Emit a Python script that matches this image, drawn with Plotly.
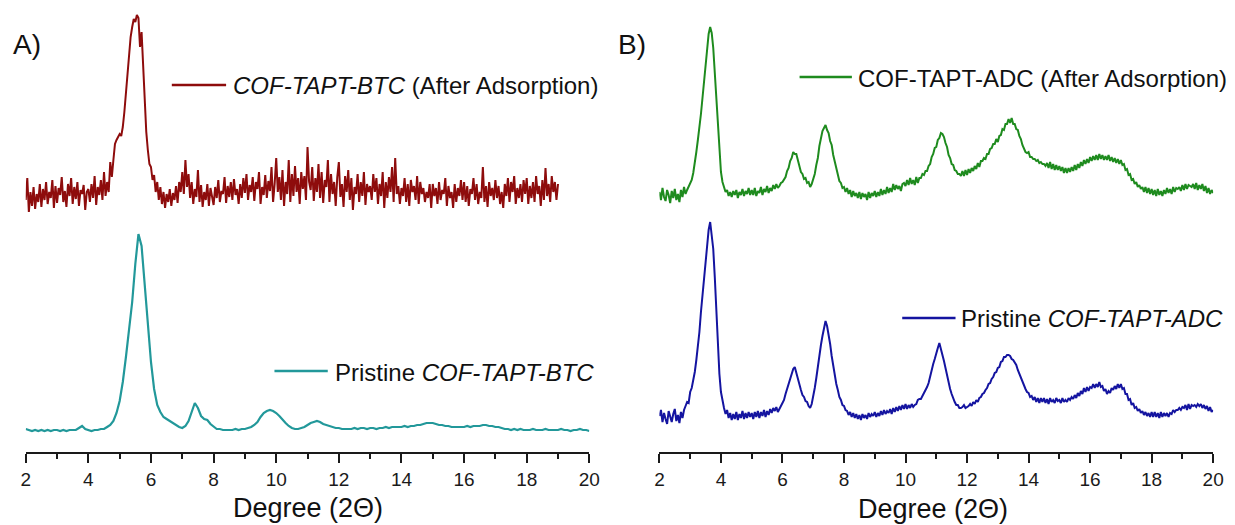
import numpy as np
import plotly.graph_objects as go

# ---------------- data (intensities, arbitrary units) ----------------
X_START = 2.0
STEP_FINE = 0.05     # sampling of the noisy scans
STEP_COARSE = 0.1    # sampling of the smooth pristine BTC scan

# COF-TAPT-BTC after adsorption, 2.00 .. 19.00 (step 0.05), one row per degree
btc_after = [
    22, 44, 10, 30, 16, 35, 13, 28, 20, 38, 15, 33, 22, 40, 18, 30, 24, 42, 14, 36,
    19, 34, 27, 45, 20, 31, 15, 38, 26, 44, 18, 35, 23, 40, 16, 32, 28, 37, 12, 30,
    33, 20, 38, 24, 46, 17, 35, 27, 42, 22, 50, 26, 40, 30, 60, 45, 62, 78, 82, 85,
    88, 86, 95, 110, 130, 150, 165, 185, 195, 203, 200, 207, 204, 175, 190, 155, 110, 90, 72, 58,
    55, 42, 47, 30, 40, 22, 35, 18, 30, 14, 28, 20, 33, 16, 29, 22, 36, 19, 40, 30,
    50, 28, 62, 35, 48, 24, 40, 18, 33, 25, 52, 20, 37, 15, 30, 22, 38, 16, 34, 26,
    17, 35, 24, 42, 20, 31, 28, 45, 19, 36, 25, 40, 22, 43, 27, 33, 18, 38, 24, 44,
    29, 48, 22, 37, 30, 45, 21, 40, 33, 50, 18, 35, 27, 47, 24, 41, 31, 55, 20, 38,
    64, 30, 45, 22, 52, 16, 40, 28, 62, 20, 48, 26, 56, 30, 44, 18, 50, 33, 46, 22,
    75, 40, 32, 55, 21, 44, 30, 58, 24, 50, 19, 42, 35, 62, 20, 48, 28, 40, 16, 45,
    60, 25, 38, 15, 46, 30, 52, 22, 44, 12, 35, 28, 48, 20, 40, 26, 50, 17, 38, 30,
    36, 22, 48, 30, 44, 18, 38, 26, 50, 14, 40, 24, 45, 30, 55, 20, 64, 28, 36, 18,
    34, 26, 44, 20, 38, 16, 42, 30, 36, 22, 46, 18, 40, 28, 34, 20, 30, 24, 38, 14,
    38, 26, 34, 18, 40, 22, 32, 28, 44, 16, 36, 24, 30, 14, 38, 20, 34, 26, 42, 22,
    40, 20, 36, 16, 33, 28, 44, 22, 38, 18, 30, 24, 55, 20, 36, 15, 40, 26, 34, 22,
    42, 24, 36, 18, 30, 14, 38, 26, 44, 20, 40, 30, 46, 18, 34, 24, 38, 20, 42, 28,
    44, 18, 36, 24, 40, 20, 46, 28, 36, 16, 42, 22, 54, 26, 38, 20, 46, 30, 40, 22,
    38,
]

# Pristine COF-TAPT-BTC, 2.0 .. 20.0 (step 0.1)
btc_pristine = [
    23, 22, 21, 22, 21, 22, 21, 22, 21, 22,
    22, 21, 22, 21, 22, 22, 22, 24, 26, 23,
    22, 21, 22, 22, 23, 23, 25, 27, 31, 39,
    51, 70, 95, 121, 150, 188, 218, 206, 166, 128,
    90, 63, 47, 40, 35, 33, 31, 29, 27, 25,
    24, 26, 31, 41, 49, 44, 36, 33, 32, 28,
    25, 23, 23, 22, 22, 22, 22, 23, 22, 23,
    23, 24, 25, 27, 30, 35, 39, 41, 42, 41,
    39, 36, 32, 29, 26, 24, 23, 23, 24, 25,
    27, 29, 30, 31, 30, 28, 27, 26, 25, 24,
    24, 23, 23, 23, 23, 24, 23, 24, 24, 23,
    24, 24, 23, 24, 24, 25, 24, 25, 25, 25,
    25, 26, 25, 26, 26, 27, 27, 28, 29, 29,
    29, 28, 27, 27, 26, 26, 25, 25, 25, 25,
    25, 26, 25, 26, 26, 26, 27, 27, 26, 26,
    25, 25, 24, 23, 23, 22, 23, 22, 23, 22,
    22, 22, 23, 22, 22, 22, 23, 22, 22, 22,
    22, 23, 22, 22, 21, 22, 22, 23, 22, 22,
    21,
]

# COF-TAPT-ADC after adsorption, 2.00 .. 20.00 (step 0.05)
adc_after = [
    38, 30, 42, 33, 29, 40, 35, 27, 39, 32, 41, 30, 36, 28, 40, 33, 43, 36, 40, 44,
    46, 50, 57, 66, 78, 90, 102, 116, 132, 150, 166, 183, 196, 203, 197, 182, 158, 130, 102, 78,
    58, 48, 42, 38, 40, 34, 38, 33, 39, 35, 40, 32, 38, 35, 41, 34, 39, 36, 42, 35,
    40, 35, 42, 34, 39, 37, 43, 35, 41, 38, 44, 37, 42, 39, 45, 41, 46, 42, 44, 47,
    48, 51, 53, 59, 62, 69, 72, 78, 76, 76, 69, 65, 58, 56, 51, 52, 47, 48, 43, 46,
    50, 56, 65, 72, 84, 91, 99, 102, 105, 100, 97, 89, 85, 75, 69, 60, 56, 49, 47, 42,
    43, 38, 42, 36, 40, 33, 39, 34, 37, 32, 38, 31, 37, 33, 36, 30, 38, 32, 37, 34,
    39, 33, 38, 34, 41, 35, 40, 36, 43, 37, 42, 38, 46, 40, 45, 41, 44, 39, 46, 47,
    44, 50, 45, 52, 46, 50, 45, 53, 47, 52, 52, 56, 55, 59, 59, 64, 66, 73, 76, 82,
    83, 90, 92, 97, 96, 93, 87, 83, 75, 72, 66, 65, 60, 59, 56, 56, 54, 59, 54, 60,
    55, 61, 57, 62, 59, 64, 61, 67, 63, 69, 69, 72, 71, 76, 76, 81, 82, 86, 86, 91,
    88, 94, 95, 101, 100, 106, 106, 111, 107, 112, 106, 106, 101, 100, 94, 91, 85, 82, 78, 77,
    78, 73, 73, 71, 71, 69, 70, 67, 68, 66, 66, 64, 67, 62, 68, 61, 66, 60, 65, 60,
    64, 59, 63, 57, 62, 57, 62, 58, 63, 59, 65, 60, 66, 62, 68, 64, 70, 66, 71, 67,
    73, 69, 74, 70, 75, 70, 76, 71, 75, 70, 74, 70, 75, 69, 73, 68, 72, 67, 71, 66,
    70, 65, 66, 60, 61, 55, 56, 50, 51, 46, 48, 43, 45, 41, 43, 38, 43, 37, 42, 36,
    41, 35, 40, 34, 41, 35, 39, 34, 40, 36, 42, 37, 41, 36, 43, 38, 42, 41, 43, 39,
    45, 40, 46, 41, 45, 44, 43, 46, 41, 47, 40, 45, 41, 46, 39, 44, 37, 42, 36, 40,
    37,
]

# Pristine COF-TAPT-ADC, 2.00 .. 20.00 (step 0.05)
adc_pristine = [
    36, 42, 30, 39, 33, 28, 41, 35, 30, 38, 43, 31, 37, 29, 40, 34, 42, 46, 50, 49,
    60, 64, 72, 80, 92, 105, 120, 140, 158, 168, 188, 208, 222, 230, 218, 203, 175, 145, 105, 78,
    60, 50, 44, 38, 42, 34, 39, 32, 38, 33, 40, 32, 38, 34, 41, 33, 39, 34, 40, 35,
    39, 33, 40, 35, 41, 34, 40, 36, 42, 35, 41, 37, 43, 39, 44, 41, 45, 40, 44, 46,
    49, 52, 58, 63, 70, 75, 80, 83, 85, 79, 74, 66, 62, 57, 55, 51, 50, 46, 44, 48,
    55, 64, 74, 86, 98, 107, 116, 124, 131, 126, 118, 108, 96, 86, 77, 68, 62, 55, 52, 47,
    46, 42, 41, 37, 40, 35, 39, 34, 38, 33, 37, 32, 38, 34, 37, 33, 39, 35, 38, 36,
    40, 35, 39, 36, 41, 37, 42, 38, 41, 39, 43, 38, 44, 40, 45, 41, 46, 42, 47, 43,
    48, 43, 47, 44, 48, 45, 47, 48, 52, 53, 53, 56, 58, 61, 65, 69, 76, 81, 88, 93,
    100, 104, 109, 103, 100, 91, 84, 76, 70, 63, 58, 53, 50, 47, 47, 44, 44, 45, 47, 44,
    45, 46, 48, 46, 50, 48, 52, 50, 54, 55, 58, 59, 62, 64, 68, 69, 73, 75, 79, 80,
    84, 85, 90, 91, 95, 95, 97, 97, 96, 93, 92, 89, 87, 82, 78, 73, 70, 65, 63, 60,
    59, 55, 56, 52, 55, 50, 54, 49, 54, 50, 54, 49, 53, 48, 54, 50, 52, 49, 54, 51,
    52, 49, 54, 50, 52, 50, 54, 52, 55, 53, 57, 54, 59, 56, 61, 58, 64, 60, 65, 61,
    65, 64, 68, 64, 68, 65, 70, 65, 66, 61, 63, 58, 61, 59, 64, 62, 66, 63, 68, 64,
    68, 63, 64, 58, 58, 52, 53, 47, 49, 44, 45, 41, 43, 39, 41, 37, 40, 36, 39, 35,
    40, 35, 40, 35, 39, 34, 40, 35, 39, 36, 39, 35, 39, 38, 42, 40, 42, 42, 44, 42,
    45, 44, 47, 42, 48, 43, 47, 46, 47, 45, 48, 46, 48, 44, 47, 43, 46, 41, 45, 40,
    42,
]

tick_vals = [2, 4, 6, 8, 10, 12, 14, 16, 18, 20]
tick_text = ["2", "4", "6", "8", "10", "12", "14", "16", "18", "20"]

# ---------------- styling / layout ----------------
W, H = 1235, 525
PLOT_H = 452  # pixel row of the x-axis line
FONT = "Arial, 'Liberation Sans', Helvetica, sans-serif"

RED = "#8E0C0C"
TEAL = "#22989A"
GREEN = "#1E8B1E"
BLUE = "#1414A0"

OFFSET_TOP_A = 230
OFFSET_TOP_B = 222


def grid(vals, step):
    return np.round(X_START + step * np.arange(len(vals)), 3)


def off(vals, o):
    return np.asarray(vals, dtype=float) + o


def px(x):
    return x / W


def py(y):
    return (PLOT_H - y) / PLOT_H


fig = go.Figure()

fig.add_trace(go.Scatter(x=grid(btc_after, STEP_FINE), y=off(btc_after, OFFSET_TOP_A), mode="lines",
                         line=dict(color=RED, width=2), xaxis="x", yaxis="y",
                         name="COF-TAPT-BTC (After Adsorption)", showlegend=False))
fig.add_trace(go.Scatter(x=grid(btc_pristine, STEP_COARSE), y=off(btc_pristine, 0), mode="lines",
                         line=dict(color=TEAL, width=2.2), xaxis="x", yaxis="y",
                         name="Pristine COF-TAPT-BTC", showlegend=False))
fig.add_trace(go.Scatter(x=grid(adc_after, STEP_FINE), y=off(adc_after, OFFSET_TOP_B), mode="lines",
                         line=dict(color=GREEN, width=2), xaxis="x2", yaxis="y2",
                         name="COF-TAPT-ADC (After Adsorption)", showlegend=False))
fig.add_trace(go.Scatter(x=grid(adc_pristine, STEP_FINE), y=off(adc_pristine, 0), mode="lines",
                         line=dict(color=BLUE, width=2), xaxis="x2", yaxis="y2",
                         name="Pristine COF-TAPT-ADC", showlegend=False))

xaxis_common = dict(
    range=[2, 20], tickmode="array", tickvals=tick_vals, ticktext=tick_text,
    showline=True, linecolor="#1a1a1a", linewidth=2, mirror=False,
    ticks="outside", ticklen=9, tickwidth=2, tickcolor="#1a1a1a",
    minor=dict(dtick=1, ticks="outside", ticklen=5, tickwidth=2, tickcolor="#1a1a1a"),
    showgrid=False, zeroline=False, fixedrange=True,
    tickfont=dict(family=FONT, size=19, color="#1a1a1a"),
)

yaxis_common = dict(range=[0, PLOT_H], domain=[0, 1], visible=False, fixedrange=True,
                    showgrid=False, zeroline=False)

fig.update_layout(
    width=W, height=H,
    margin=dict(l=0, r=0, t=0, b=H - PLOT_H, pad=0),
    paper_bgcolor="white", plot_bgcolor="white",
    showlegend=False,
    xaxis=dict(**xaxis_common, anchor="y", domain=[px(21), px(592)]),
    xaxis2=dict(**xaxis_common, anchor="y2", domain=[px(663), px(1224)]),
    yaxis=dict(**yaxis_common, anchor="x"),
    yaxis2=dict(**yaxis_common, anchor="x2"),
)

annotations = []
shapes = []

# panel labels
annotations.append(dict(text="A)", x=px(6), y=py(45), xref="paper", yref="paper",
                        xanchor="left", yanchor="middle", showarrow=False,
                        font=dict(family=FONT, size=28, color="#111")))
annotations.append(dict(text="B)", x=px(619), y=py(45), xref="paper", yref="paper",
                        xanchor="left", yanchor="middle", showarrow=False,
                        font=dict(family=FONT, size=28, color="#111")))

# axis titles
annotations.append(dict(text="Degree (2\u0398)", x=px(307), y=py(508), xref="paper", yref="paper",
                        xanchor="center", yanchor="middle", showarrow=False,
                        font=dict(family=FONT, size=27, color="#111")))
annotations.append(dict(text="Degree (2\u0398)", x=px(940), y=py(509), xref="paper", yref="paper",
                        xanchor="center", yanchor="middle", showarrow=False,
                        font=dict(family=FONT, size=27, color="#111")))

# legend-like labels
legend_items = [
    (169, 224, 85, 229, "<i>COF-TAPT-BTC</i> (After Adsorption)", RED),
    (273, 327, 371, 332, "Pristine <i>COF-TAPT-BTC</i>", TEAL),
    (805, 858, 77, 862, "COF-TAPT-ADC (After Adsorption)", GREEN),
    (909, 963, 318, 967, "Pristine <i>COF-TAPT-ADC</i>", BLUE),
]
for x0, x1, yy, tx, txt, col in legend_items:
    shapes.append(dict(type="line", xref="paper", yref="paper", x0=px(x0), x1=px(x1),
                       y0=py(yy), y1=py(yy), line=dict(color=col, width=2.5)))
    annotations.append(dict(text=txt, x=px(tx), y=py(yy + 1), xref="paper", yref="paper",
                            xanchor="left", yanchor="middle", showarrow=False,
                            font=dict(family=FONT, size=24, color="#111")))

fig.update_layout(annotations=annotations, shapes=shapes)

fig.write_html("out.html", config={"displayModeBar": False})
